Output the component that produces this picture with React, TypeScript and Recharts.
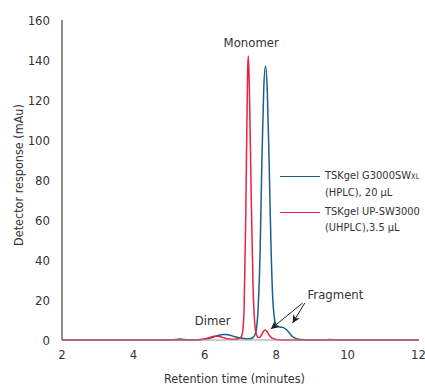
import { LineChart, Line, XAxis, YAxis, Legend, ReferenceLine, ReferenceDot } from 'recharts';

const FONT = "'DejaVu Sans Condensed', 'Liberation Sans Narrow', sans-serif";

// HPLC trace (TSKgel G3000SWxl)
const hplcTime = [
    2, 3, 4, 5, 5.2, 5.3, 5.4, 5.6, 5.8, 6.0, 6.2, 6.3, 6.4, 6.5, 6.6, 6.7, 6.8, 6.9, 7.0,
    7.1, 7.2, 7.3, 7.35, 7.4, 7.45, 7.5, 7.55, 7.6, 7.65, 7.7, 7.75, 7.8, 7.85, 7.9, 7.95,
    8.0, 8.1, 8.2, 8.3, 8.4, 8.5, 8.6, 8.8, 9.0, 9.3, 9.5, 9.7, 10, 11, 12,
];
const hplcSignal = [
    0, 0, 0, 0, 0.2, 0.5, 0.2, 0, 0.1, 0.4, 1.2, 1.8, 2.4, 2.7, 2.7, 2.4, 1.9, 1.4, 1.0,
    0.7, 0.6, 0.8, 1.2, 2.5, 6, 18, 45, 90, 125, 137, 125, 90, 50, 22, 11,
    7.5, 6.5, 6.2, 5, 2.8, 1.2, 0.5, 0.1, 0, 0, 0.3, 0, 0, 0, 0,
];

// UHPLC trace (TSKgel UP-SW3000)
const uhplcTime = [
    2, 3, 4, 5, 5.6, 5.8, 6.0, 6.2, 6.3, 6.4, 6.5, 6.6, 6.7, 6.8, 6.9, 7.0, 7.05, 7.1,
    7.15, 7.2, 7.22, 7.25, 7.3, 7.35, 7.4, 7.45, 7.5, 7.55, 7.6, 7.65, 7.7, 7.75, 7.8,
    7.85, 7.9, 7.95, 8.0, 8.1, 8.2, 9, 10, 11, 12,
];
const uhplcSignal = [
    0, 0, 0, 0, 0, 0.1, 0.5, 1.6, 2, 1.8, 1.3, 0.8, 0.5, 0.4, 0.5, 1.2, 3, 15,
    65, 135, 142, 125, 72, 28, 8, 2.5, 1.2, 1.5, 3, 4.5, 5, 4, 2.5,
    1.5, 0.8, 0.5, 0.3, 0.1, 0, 0, 0, 0, 0,
];

const xTicks = [2, 4, 6, 8, 10, 12];
const yTicks = [0, 20, 40, 60, 80, 100, 120, 140, 160];

const hplcData = hplcTime.map((t, i) => ({ t, v: hplcSignal[i] }));
const uhplcData = uhplcTime.map((t, i) => ({ t, v: uhplcSignal[i] }));

const BLUE = '#1c5e8c';
const RED = '#e8233f';
const TEXT = '#333';

// legend text, two lines per series
const legendText: Record<string, [React.ReactNode, string]> = {
    hplc: [<>TSKgel G3000SW<span style={{ fontSize: 7.5 }}>XL</span></>, '(HPLC), 20 µL'],
    uhplc: ['TSKgel UP-SW3000', '(UHPLC),3.5 µL'],
};

function ChartLegend({ payload }: any) {
    return (
        <div style={{ fontFamily: FONT, fontSize: 11, color: TEXT, lineHeight: '16px', whiteSpace: 'nowrap' }}>
            {(payload || []).map((p: any) => (
                <div key={p.dataKey + p.value} style={{ display: 'flex', marginBottom: 3 }}>
                    <div style={{ width: 40, height: 8, borderBottom: `1.5px solid ${p.color}`, marginRight: 5, flexShrink: 0 }} />
                    <div>
                        <div>{legendText[p.value][0]}</div>
                        <div>{legendText[p.value][1]}</div>
                    </div>
                </div>
            ))}
        </div>
    );
}

function Arrow(props: any) {
    const { x1, y1, x2, y2, id } = props;
    return (
        <g>
            <defs>
                <marker id={id} viewBox="0 0 10 10" refX="10" refY="5" markerWidth="8" markerHeight="8"
                    markerUnits="userSpaceOnUse" orient="auto">
                    <path d="M0,0 L10,5 L0,10 L3,5 z" fill="#222" />
                </marker>
            </defs>
            <line x1={x1} y1={y1} x2={x2} y2={y2} stroke="#222" strokeWidth={1} markerEnd={`url(#${id})`} />
        </g>
    );
}

function YLabel() {
    const cx = 18;
    const cy = 175;
    return (
        <text x={cx} y={cy} transform={`rotate(-90 ${cx} ${cy})`} textAnchor="middle" dominantBaseline="central"
            fill={TEXT} fontSize={12.5} fontFamily={FONT}>
            Detector response (mAu)
        </text>
    );
}

export default function App() {
    const tick = { fontSize: 13, fill: TEXT, fontFamily: FONT };
    const note = { fill: TEXT, fontSize: 13, fontFamily: FONT };
    return (
        <div style={{ width: 425, height: 385, background: '#fff' }}>
            <style>{'body{margin:0}'}</style>
            <LineChart width={425} height={385} margin={{ top: 20, right: 6, bottom: 0, left: 0 }}
                style={{ fontFamily: FONT }}>
                <XAxis
                    type="number"
                    dataKey="t"
                    domain={[2, 12]}
                    ticks={xTicks}
                    height={45}
                    tickSize={0}
                    tickMargin={10}
                    tick={tick}
                    axisLine={{ stroke: '#999', strokeWidth: 1 }}
                    label={{ value: 'Retention time (minutes)', position: 'insideBottom', offset: 2, dx: -6, ...note, fontSize: 12.5 }}
                />
                <YAxis
                    type="number"
                    domain={[0, 160]}
                    ticks={yTicks}
                    width={62}
                    tickSize={0}
                    tickMargin={12}
                    tick={tick}
                    axisLine={{ stroke: '#444', strokeWidth: 1.2 }}
                    label={<YLabel />}
                />
                <Legend
                    layout="horizontal"
                    verticalAlign="middle"
                    align="center"
                    content={<ChartLegend />}
                    wrapperStyle={{ position: 'absolute', left: 280, top: 168, width: 145 }}
                />
                <Line data={hplcData} dataKey="v" name="hplc" type="monotone" stroke={BLUE} strokeWidth={1.5}
                    dot={false} isAnimationActive={false} />
                <Line data={uhplcData} dataKey="v" name="uhplc" type="monotone" stroke={RED} strokeWidth={1.5}
                    dot={false} isAnimationActive={false} />
                <ReferenceLine segment={[{ x: 8.74, y: 18.5 }, { x: 7.85, y: 5.5 }]} shape={<Arrow id="ah1" />} />
                <ReferenceLine segment={[{ x: 8.8, y: 18.5 }, { x: 8.46, y: 8.5 }]} shape={<Arrow id="ah2" />} />
                <ReferenceDot x={7.3} y={149} r={0} fill="none" stroke="none"
                    label={{ value: 'Monomer', position: 'center', ...note }} />
                <ReferenceDot x={6.22} y={10} r={0} fill="none" stroke="none"
                    label={{ value: 'Dimer', position: 'center', ...note }} />
                <ReferenceDot x={9.66} y={23} r={0} fill="none" stroke="none"
                    label={{ value: 'Fragment', position: 'center', ...note }} />
            </LineChart>
        </div>
    );
}
